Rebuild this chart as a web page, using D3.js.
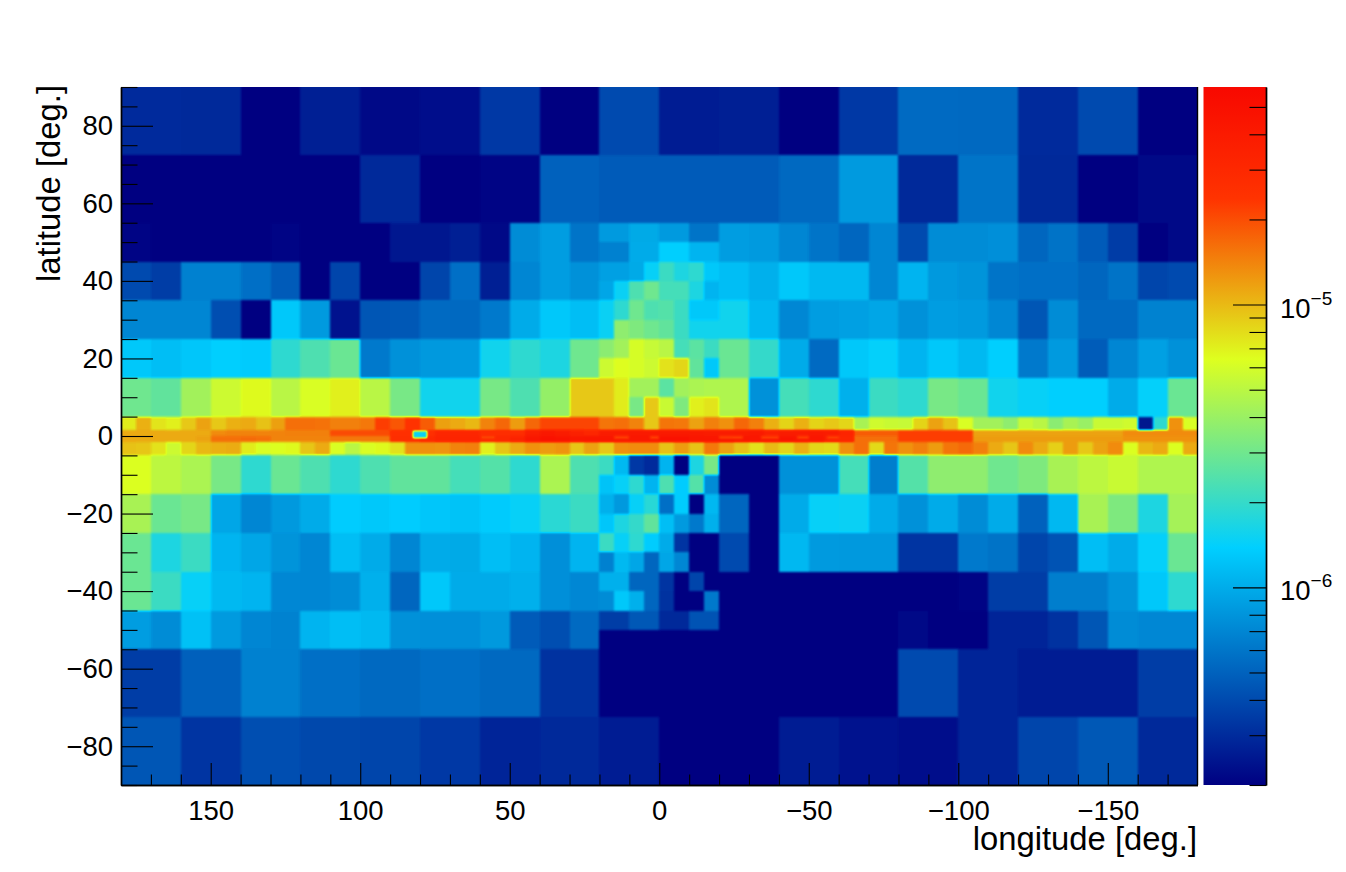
<!DOCTYPE html>
<html><head><meta charset="utf-8">
<script src="https://cdn.jsdelivr.net/npm/d3@7"></script>
<style>html,body{margin:0;padding:0;background:#fff;overflow:hidden}svg{display:block}text{font-family:"Liberation Sans",Arial,sans-serif;fill:#000}</style>
</head><body><svg id="c" width="1346" height="872"></svg>
<script>
// all fluxes in units of 1e-6
const xTicksMajor=[150,100,50,0,-50,-100,-150];
const yTicksMajor=[80,60,40,20,0,-20,-40,-60,-80];
const zMajor=[1e-6,1e-5];
const zMinor=[2e-7,3e-7,4e-7,5e-7,6e-7,7e-7,8e-7,9e-7,2e-6,3e-6,4e-6,5e-6,6e-6,7e-6,8e-6,9e-6,2e-5,3e-5,4e-5,5e-5];
const zDomain=[2e-7,5.88e-5];
const paletteStops=[0,0.34,0.61,0.84,1];
const paletteColors=["#000082","#00cfff","#deff1f","#ff3300","#f80800"];

// 20 degree wide polar bands [latTop, latBottom], longitudes 180 -> -180
const polarLat=[[90,72.5],[72.5,55],[-55,-72.5],[-72.5,-90]];
const polar1=[.3,.29,.2,.27,.22,.23,.34,.2,.4,.26,.27,.2,.34,.55,.53,.3,.4,.2];
const polar2=[.2,.2,.2,.2,.29,.2,.21,.5,.47,.47,.47,.53,.85,.29,.6,.29,.2,.22];
const polar3=[.36,.49,.67,.57,.53,.57,.53,.32,.2,.2,.2,.2,.2,.4,.28,.26,.26,.36];
const polar4=[.45,.33,.42,.39,.38,.34,.28,.29,.26,.2,.2,.26,.24,.23,.28,.38,.46,.29];
const polarRows=[polar1,polar2,polar3,polar4];

// 10 degree wide cells: 180..20 then -20..-180
const sideLat=[[55,45],[45,35],[35,25],[25,15],[15,5],[-5,-15],[-15,-25],[-25,-35],[-35,-45],[-45,-55]];
const side1=[.21,.2,.2,.2,.2,.21,.2,.2,.2,.25,.25,.27,.22,.75,.88,.6, .88,.85,.7,.6,.52,.7,.4,.75,.75,.76,.52,.58,.47,.35,.2,.22];
const side2=[.4,.36,.66,.66,.57,.47,.2,.38,.2,.2,.38,.57,.27,.7,.88,.78, 1.2,1.03,1.3,1.15,1.15,.7,1.08,.83,.8,.6,.57,.57,.52,.58,.38,.4];
const side3=[.7,.7,.7,.42,.2,1.3,.85,.24,.45,.46,.55,.53,.63,1.0,1.3,1.2, 1.55,1.12,.72,.88,.9,.95,.78,.88,.85,.72,.45,.75,.53,.53,.68,.68];
const side4=[1.3,1.2,1.28,1.38,1.33,1.9,2.4,2.9,.63,.78,.83,.85,1.55,1.9,1.7,3.0, 2.9,2.0,1.0,.55,1.3,1.42,1.1,1.3,1.15,1.38,.63,.85,.48,.7,.9,.78];
const side5=[3.0,2.7,4.2,5.6,6.6,5.0,6.2,7,5.0,3.2,1.55,1.55,3.2,2.4,3.9,9.1, 4.6,.78,2.2,1.9,1.05,2.1,1.9,3.2,2.9,1.55,1.45,1.38,1.38,1.0,1.42,2.9];
const side6=[6.3,5.1,4.5,3.2,1.9,2.9,2.4,1.9,2.4,2.7,2.7,2.2,2.5,1.9,4.5,2.4, .2,.2,.78,.78,2.2,.65,2.5,3.7,3.7,3.0,3.3,4.4,5.1,5.5,4.6,4.6];
const side7=[4.4,2.9,3.2,.95,.7,.83,1.0,1.35,1.3,1.35,1.28,1.25,1.33,1.45,1.85,2.1, .52,.2,1.0,1.45,1.5,1.0,.78,1.0,.75,1.0,.5,1.12,4.4,3.3,1.7,4.3];
const side8=[2.9,1.7,2.1,1.1,.95,.8,.7,1.2,1.0,.7,1.0,.98,1.18,1.1,.77,1.08, .4,.2,1.12,.85,.83,.83,.33,.33,.63,.58,.38,.44,1.2,1.0,1.42,2.9];
const side9=[2.9,2.1,1.45,1.15,1.1,.72,.7,.75,1.05,.52,1.3,1.0,1.0,1.03,.77,.72, .2,.2,.2,.2,.2,.2,.2,.2,.21,.36,.36,.65,.65,.8,1.3,1.9];
const side10=[.88,.75,1.22,.85,.7,.68,1.08,1.18,1.15,.78,.76,.76,.83,.47,.42,.55, .2,.2,.2,.2,.2,.2,.22,.2,.2,.28,.28,.32,.45,.75,.72,.72];
const sideRows=[side1,side2,side3,side4,side5,side6,side7,side8,side9,side10];
const sideLon=[180,170,160,150,140,130,120,110,100,90,80,70,60,50,40,30,-20,-30,-40,-50,-60,-70,-80,-90,-100,-110,-120,-130,-140,-150,-160,-170];

// 5 x 5 degree cells around the galactic centre: lon 20..-20
const centreTopLat=[55,50,45,40,35,30,25,20,15,10];
const centreBottomLat=[-5,-10,-15,-20,-25,-30,-35,-40,-45,-50];
const centreNorth=[
 [.85,.85,.97,.97,.85,.85,.6,.6],
 [.66,.66,1.0,1.0,1.38,1.38,1.1,1.1],
 [.9,.9,.97,1.45,2.1,1.7,1.9,1.3],
 [.95,1.5,2.4,3.0,2.2,2.2,1.7,1.1],
 [1.5,1.9,3.0,2.4,2.5,2.1,1.3,1.3],
 [1.5,3.7,3.3,3.0,2.7,2.1,1.55,1.55],
 [3.6,4.2,6.0,5.4,5.0,2.2,2.6,2.1],
 [5.6,6.5,6.0,5.6,7.8,8.3,2.7,1.3],
 [9,7.2,4.2,4.2,2.6,4.2,4.5,4.6],
 [9,7.2,3.2,9,5.5,3.3,7,7.5]];
const centreSouth=[
 [2.1,1.15,.34,.3,1.1,.2,1.7,3.2],
 [1.25,1.45,1.9,1.1,2.4,1.35,2.5,.75],
 [1.05,.83,1.45,1.8,.57,1.35,.2,1.12],
 [1.28,1.7,2.0,2.7,1.2,.85,.63,1.05],
 [2.1,1.45,1.9,1.35,1.0,.33,.2,.2],
 [.67,1.15,.95,.52,.95,.72,.2,.2],
 [1.05,1.05,.52,.52,.33,.2,.38,.2],
 [.75,1.3,1.05,.52,.32,.2,.2,.62],
 [.36,.36,.46,.46,.29,.29,.44,.44],
 [.2,.2,.2,.2,.2,.2,.2,.2]];

// galactic plane, 5 degree wide cells, lon 180 -> -180
const planeLat=[[5,1.67],[1.67,0],[0,-1.67],[-1.67,-5]];
const planeA=[7.3,10.5,7.6,7,9,11.5,9,10.5,11,9.5,11.8,16,16,15.8,14.5,14.5,15,22,19,24,18,11.8,11,10,14,17,12,17,21,21,21,21,15.5,16,14,9,
 15.5,15,11.5,14.5,13,17,14.5,10.5,8.5,10.5,8.5,9,8.3,4.4,5.8,5.5,5.4,8.5,11.5,9.5,6.2,4.2,4.2,3.7,5.4,5.0,3.6,4.4,4.0,5.5,5.5,5.8,.25,1.9,13,6.2];
const planeB=[11,11,11,11,11,11,13.5,14,14,14,14,14.5,14.5,14.5,20,20,20,20,25,25,25,31,31,31,27,27,27,36,41,38,34,31,38,38,40,40,
 40,40,40,38,38,38,40,34,38,38,40,38,32,18,18,18,22,22,22,22,22,11.5,11.5,11.5,11.5,11.5,11.5,11.5,11.5,11.5,11.5,13.5,13.5,13.5,13.5,13.5];
const planeC=[11,11,11,11,11,11.5,16,16,16.5,16,14,14,14,14,15,15,15,15,26,26,29,32,32,32,30,30,33,42,48,46,42,44,44,43,43,43,
 48,48,44,44,48,44,43,43,46,44,44,36,31,16,16,16,22,22,22,22,22,12,12,12,12,12,12,12,12,12,12,13,13,13,13,13];
const planeD=[9.5,9.2,7.7,5.6,8.3,10,10.5,10.8,7.2,6.2,6.4,6.6,9.2,11,6.2,5.0,6.2,6.6,7.8,13,13,12.5,14,14.5,7,9.3,11,13,12,12.5,9.2,11.5,9,13,13.5,13.5,
 9.5,12,9.5,15,11.5,9.5,7.8,9.8,8.3,10.5,8.3,8,13,16,8,15.5,13,14.5,12,15.5,16.5,14.5,11,9.3,13.5,11,8.7,12,9,11.5,13.5,6.3,10,11,6.3,11];
const planeRows=[planeA,planeB,planeC,planeD];

// small features inside the plane: [lonLeft, lonRight, latTop, latBottom, value]
const planeSpots=[[82.5,77.8,1.4,-0.6,1.5]];
const dashLon=[[59.7,55],[15,10],[3,0],[-20,-28],[-34,-40],[-46,-50],[-56,-60]];
const dashValue=[20,20,20,20,20,20,20];
const dashLat=[0.1,-0.7];

const svg=d3.select("#c");
const x=d3.scaleLinear().domain([180,-180]).range([121,1197.5]);
const y=d3.scaleLinear().domain([90,-90]).range([87,785]);
const zT=d3.scaleLog().domain(zDomain).range([0,1]).clamp(true);
const zY=d3.scaleLog().domain(zDomain).range([785,87]);
const pal=d3.scaleLinear().domain(paletteStops).range(paletteColors).interpolate(d3.interpolateRgb).clamp(true);

// build cells
const cells=[];
const add=(l0,l1,b0,b1,v)=>cells.push({l0,l1,b0,b1,v});
polarRows.forEach((r,i)=>r.forEach((v,j)=>add(180-20*j,160-20*j,polarLat[i][0],polarLat[i][1],v)));
sideRows.forEach((r,i)=>r.forEach((v,j)=>add(sideLon[j],sideLon[j]-10,sideLat[i][0],sideLat[i][1],v)));
centreNorth.forEach((r,i)=>r.forEach((v,j)=>add(20-5*j,15-5*j,centreTopLat[i],centreTopLat[i]-5,v)));
centreSouth.forEach((r,i)=>r.forEach((v,j)=>add(20-5*j,15-5*j,centreBottomLat[i],centreBottomLat[i]-5,v)));
planeRows.forEach((r,i)=>r.forEach((v,j)=>add(180-5*j,175-5*j,planeLat[i][0],planeLat[i][1],v)));
dashLon.forEach((d,i)=>add(d[0],d[1],dashLat[0],dashLat[1],dashValue[i]));
planeSpots.forEach(s=>add(s[0],s[1],s[2],s[3],s[4]));

// value-space smoothing: cells are drawn as a scalar field, blurred, then coloured
const defs=svg.append("defs");
const N=256, samples=d3.range(N).map(i=>d3.rgb(pal(i/(N-1))));
const tv=k=>samples.map(c=>(c[k]/255).toFixed(4)).join(" ");
const f=defs.append("filter").attr("id","smooth").attr("filterUnits","userSpaceOnUse")
  .attr("x",100).attr("y",70).attr("width",1120).attr("height",730)
  .attr("color-interpolation-filters","sRGB");
f.append("feGaussianBlur").attr("stdDeviation",1.1).attr("result","b");
const ct=f.append("feComponentTransfer").attr("in","b");
ct.append("feFuncR").attr("type","table").attr("tableValues",tv("r"));
ct.append("feFuncG").attr("type","table").attr("tableValues",tv("g"));
ct.append("feFuncB").attr("type","table").attr("tableValues",tv("b"));
ct.append("feFuncA").attr("type","table").attr("tableValues","0 1 1 1 1 1");
defs.append("clipPath").attr("id","plot").append("rect")
  .attr("x",x(180)).attr("y",y(90)).attr("width",x(-180)-x(180)).attr("height",y(-90)-y(90));

svg.append("g").attr("clip-path","url(#plot)").append("g").attr("filter","url(#smooth)")
  .selectAll("rect").data(cells).join("rect")
  .attr("x",d=>x(d.l0)).attr("y",d=>y(d.b0))
  .attr("width",d=>x(d.l1)-x(d.l0)).attr("height",d=>y(d.b1)-y(d.b0))
  .attr("shape-rendering","crispEdges")
  .attr("fill",d=>{const g=zT(d.v*1e-6)*255;return `rgb(${g},${g},${g})`;});

// colour bar
const grad=defs.append("linearGradient").attr("id","bar").attr("x1",0).attr("x2",0).attr("y1",1).attr("y2",0);
paletteStops.forEach((s,i)=>grad.append("stop").attr("offset",s).attr("stop-color",paletteColors[i]));
svg.append("rect").attr("x",1203.5).attr("y",87).attr("width",62.5).attr("height",698).attr("fill","url(#bar)");

// axes
const fs=27.5;
function style(g){g.select(".domain").attr("stroke","#000").attr("stroke-width",1.4);
  g.selectAll("line").attr("stroke","#000").attr("stroke-width",1.1);
  g.selectAll("text").attr("font-size",fs).attr("font-family",'"Liberation Sans"');g.attr("font-family",null);}
svg.append("g").attr("transform",`translate(0,${y(-90)})`)
  .call(d3.axisBottom(x).tickValues(d3.range(-170,180,10).filter(v=>v%50)).tickFormat("").tickSizeInner(-10.5).tickSizeOuter(0)).call(style);
svg.append("g").attr("transform",`translate(0,${y(-90)})`)
  .call(d3.axisBottom(x).tickValues(xTicksMajor).tickFormat(d3.format("d")).tickSizeInner(-22).tickSizeOuter(0).tickPadding(15)).call(style);
svg.append("g").attr("transform",`translate(${x(180)},0)`)
  .call(d3.axisLeft(y).tickValues(d3.range(-90,95,5).filter(v=>v%20)).tickFormat("").tickSizeInner(-16.5).tickSizeOuter(0)).call(style);
svg.append("g").attr("transform",`translate(${x(180)},0)`)
  .call(d3.axisLeft(y).tickValues(yTicksMajor).tickFormat(d3.format("d")).tickSizeInner(-32).tickSizeOuter(0).tickPadding(8)).call(style);
svg.append("line").attr("x1",x(-180)).attr("x2",x(-180)).attr("y1",87).attr("y2",785).attr("stroke","#000").attr("stroke-width",1.4);

// colour axis
svg.append("g").attr("transform","translate(1266,0)")
  .call(d3.axisRight(zY).tickValues(zMinor).tickFormat("").tickSizeInner(-16.5).tickSizeOuter(0)).call(style);
svg.append("g").attr("transform","translate(1266,0)")
  .call(d3.axisRight(zY).tickValues(zMajor).tickFormat("").tickSizeInner(-33).tickSizeOuter(0)).call(style);
zMajor.forEach(v=>{
  const e=Math.round(Math.log10(v)), t=svg.append("text").attr("x",1280).attr("y",zY(v)+13).attr("font-size",fs);
  t.append("tspan").text("10");
  t.append("tspan").attr("dy",-13).attr("font-size",19).text("\u2212"+Math.abs(e));
});

// titles
svg.append("text").attr("x",1197).attr("y",850).attr("text-anchor","end").attr("font-size",32.8).text("longitude [deg.]");
svg.append("text").attr("transform","translate(60,85) rotate(-90)").attr("text-anchor","end").attr("font-size",32.8).text("latitude [deg.]");
</script></body></html>
